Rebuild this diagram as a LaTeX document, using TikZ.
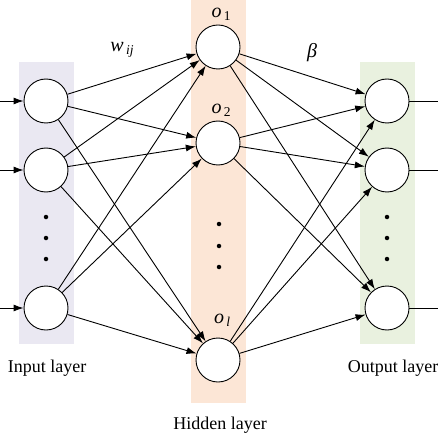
\documentclass[tikz,border=0pt]{standalone}
\usepackage{fontspec}
\setmainfont{Liberation Serif}
\usetikzlibrary{arrows.meta}
\definecolor{bandin}{HTML}{EAE8F2}
\definecolor{bandhid}{HTML}{FCE6D6}
\definecolor{bandout}{HTML}{E9F1DF}
\newcommand{\sbs}[1]{\raisebox{-0.35ex}{\fontsize{13.5}{15}\selectfont\itshape\,#1}}
\begin{document}
\begin{tikzpicture}[x=1pt,y=-1pt,
  neuron/.style={circle,draw,line width=0.9pt,minimum size=44pt,inner sep=0pt,fill=white},
  conn/.style={line width=0.9pt,-{Latex[length=10pt,width=7pt]}},
  plain/.style={line width=0.9pt},
  lbl/.style={font=\fontsize{18}{21}\selectfont,inner sep=0pt},
  mlbl/.style={font=\fontsize{20}{23}\selectfont\itshape,inner sep=0pt},
  vdot/.style={circle,fill=black,inner sep=0pt,minimum size=4.5pt}]
\useasboundingbox (0,0) rectangle (438,438);
% bands
\fill[bandin] (19,62) rectangle (74,344);
\fill[bandhid] (191,0) rectangle (246,403);
\fill[bandout] (360,62) rectangle (415,344);
% nodes
\node[neuron] (i1) at (46,101) {};
\node[neuron] (i2) at (46,170) {};
\node[neuron] (i3) at (46,308) {};
\node[neuron] (h1) at (218,47) {};
\node[neuron] (h2) at (218,143) {};
\node[neuron] (h3) at (218,360) {};
\node[neuron] (o1) at (387,101) {};
\node[neuron] (o2) at (387,170) {};
\node[neuron] (o3) at (387,308) {};
% dots
\node[vdot] (di1) at (46,217) {};
\node[vdot] (di2) at (46,238) {};
\node[vdot] (di3) at (46,259) {};
\node[vdot] (dh1) at (219,224) {};
\node[vdot] (dh2) at (219,246) {};
\node[vdot] (dh3) at (219,267) {};
\node[vdot] (do1) at (387,217) {};
\node[vdot] (do2) at (387,238) {};
\node[vdot] (do3) at (387,259) {};
% input/output free ends
\coordinate (a1) at (0,101);
\coordinate (a2) at (0,170);
\coordinate (a3) at (0,308);
\coordinate (b1) at (438,101);
\coordinate (b2) at (438,170);
\coordinate (b3) at (438,308);
\foreach \k in {1,2,3}{
  \draw[conn] (a\k) -- (i\k);
  \draw[plain] (o\k) -- (b\k);
}
\foreach \s in {1,2,3}{
  \foreach \t in {1,2,3}{
    \draw[conn] (i\s) -- (h\t);
    \draw[conn] (h\s) -- (o\t);
  }
}
% labels
\node[mlbl] (lw) at (122,50) {w\sbs{ij}};
\node[mlbl] (lb) at (312,53) {β};
\node[mlbl] (lo1) at (221,14) {o\sbs{\upshape 1}};
\node[mlbl] (lo2) at (221,110) {o\sbs{\upshape 2}};
\node[mlbl] (lol) at (222,320) {o\sbs{l}};
\node[lbl] (tin) at (47,368) {Input layer};
\node[lbl] (thid) at (220,425) {Hidden layer};
\node[lbl] (tout) at (393,368) {Output layer};
\end{tikzpicture}
\end{document}
